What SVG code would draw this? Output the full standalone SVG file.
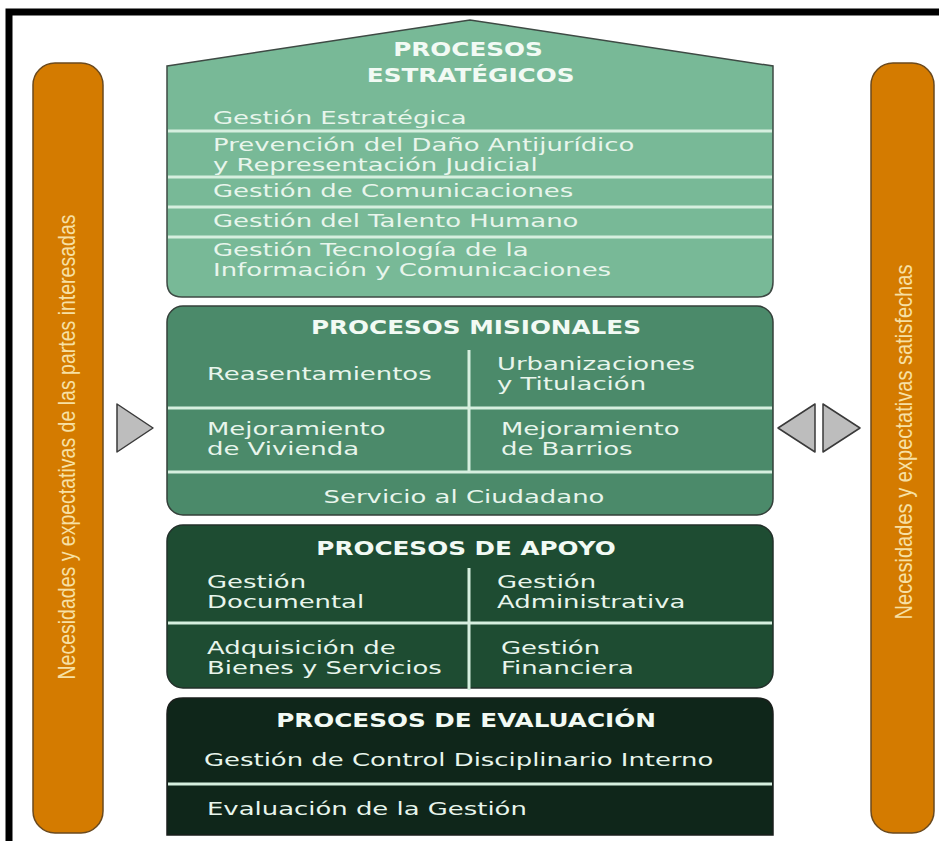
<svg xmlns="http://www.w3.org/2000/svg" width="939" height="841" viewBox="0 0 939 841">
<defs>
<style>
.bar{fill:#D47B00;stroke:#6B4A1E;stroke-width:1.5}
.bt{font-family:"Liberation Sans",Arial,sans-serif;font-size:24px;fill:#F7E0A4}
.arw{fill:#BDBDBD;stroke:#3A3A3A;stroke-width:1.5;stroke-linejoin:round}
.sep{stroke:#D6EFDF;stroke-width:3;fill:none}
.t{font-family:"DejaVu Sans",Verdana,sans-serif;font-size:17.5px;fill:#E8F5EC}
.h{font-family:"DejaVu Sans",Verdana,sans-serif;font-size:19px;font-weight:bold;fill:#F2FAF4;text-anchor:middle}
.c{text-anchor:middle}
</style>
</defs>
<rect x="0" y="0" width="939" height="841" fill="#FFFFFF"/>
<rect x="9" y="12" width="945" height="845" fill="none" stroke="#000" stroke-width="7"/>

<g id="left-bar">
<rect class="bar" x="33" y="63" width="70" height="770" rx="22"/>
<text class="bt" transform="translate(75,447) rotate(-90)" text-anchor="middle" textLength="465" lengthAdjust="spacingAndGlyphs">Necesidades y expectativas de las partes interesadas</text>
</g>
<g id="right-bar">
<rect class="bar" x="871" y="63" width="63" height="770" rx="22"/>
<text class="bt" transform="translate(912,442) rotate(-90)" text-anchor="middle" textLength="355" lengthAdjust="spacingAndGlyphs">Necesidades y expectativas satisfechas</text>
</g>

<g id="connectors">
<polygon class="arw" points="117,404 117,452 153,428"/>
<polygon class="arw" points="815,404 815,452 778,428"/>
<polygon class="arw" points="823,404 823,452 860,428"/>
</g>

<g id="estrategicos">
<path d="M167,66 L470,20 L773,66 L773,282 Q773,297 758,297 L182,297 Q167,297 167,282 Z" fill="#78B997" stroke="#3E4A44" stroke-width="1.5"/>
<text class="h" transform="translate(468,56) scale(1.3,1)"><tspan x="0" y="0">PROCESOS</tspan><tspan x="2" y="26">ESTRATÉGICOS</tspan></text>
<line class="sep" x1="168" y1="131" x2="772" y2="131"/>
<line class="sep" x1="168" y1="177" x2="772" y2="177"/>
<line class="sep" x1="168" y1="207" x2="772" y2="207"/>
<line class="sep" x1="168" y1="237" x2="772" y2="237"/>
<text class="t" transform="translate(213,124) scale(1.48,1)">Gestión Estratégica</text>
<text class="t" transform="translate(213,150.5) scale(1.48,1)"><tspan x="0" y="0">Prevención del Daño Antijurídico</tspan><tspan x="0" y="20.5">y Representación Judicial</tspan></text>
<text class="t" transform="translate(213,197) scale(1.48,1)">Gestión de Comunicaciones</text>
<text class="t" transform="translate(213,227) scale(1.48,1)">Gestión del Talento Humano</text>
<text class="t" transform="translate(213,256) scale(1.48,1)"><tspan x="0" y="0">Gestión Tecnología de la</tspan><tspan x="0" y="20.5">Información y Comunicaciones</tspan></text>
</g>

<g id="misionales">
<rect x="167" y="306" width="606" height="209" rx="16" fill="#4B8A6A" stroke="#34403A" stroke-width="1.5"/>
<text class="h" transform="translate(476,334) scale(1.3,1)">PROCESOS MISIONALES</text>
<line class="sep" x1="469" y1="350" x2="469" y2="472"/>
<line class="sep" x1="168" y1="408" x2="772" y2="408"/>
<line class="sep" x1="168" y1="472" x2="772" y2="472"/>
<text class="t" transform="translate(207,380) scale(1.48,1)">Reasentamientos</text>
<text class="t" transform="translate(497,369.5) scale(1.48,1)"><tspan x="0" y="0">Urbanizaciones</tspan><tspan x="0" y="20.5">y Titulación</tspan></text>
<text class="t" transform="translate(207,435) scale(1.48,1)"><tspan x="0" y="0">Mejoramiento</tspan><tspan x="0" y="20.5">de Vivienda</tspan></text>
<text class="t" transform="translate(501,435) scale(1.48,1)"><tspan x="0" y="0">Mejoramiento</tspan><tspan x="0" y="20.5">de Barrios</tspan></text>
<text class="t c" transform="translate(464,503) scale(1.48,1)">Servicio al Ciudadano</text>
</g>

<g id="apoyo">
<rect x="167" y="525" width="606" height="163" rx="16" fill="#1E4C32" stroke="#22302A" stroke-width="1.5"/>
<text class="h" transform="translate(466,555) scale(1.3,1)">PROCESOS DE APOYO</text>
<line class="sep" x1="469" y1="568" x2="469" y2="690"/>
<line class="sep" x1="168" y1="623" x2="772" y2="623"/>
<text class="t" transform="translate(207,588) scale(1.48,1)"><tspan x="0" y="0">Gestión</tspan><tspan x="0" y="20.5">Documental</tspan></text>
<text class="t" transform="translate(497,588) scale(1.48,1)"><tspan x="0" y="0">Gestión</tspan><tspan x="0" y="20.5">Administrativa</tspan></text>
<text class="t" transform="translate(207,654) scale(1.48,1)"><tspan x="0" y="0">Adquisición de</tspan><tspan x="0" y="20.5">Bienes y Servicios</tspan></text>
<text class="t" transform="translate(501,654) scale(1.48,1)"><tspan x="0" y="0">Gestión</tspan><tspan x="0" y="20.5">Financiera</tspan></text>
</g>

<g id="evaluacion">
<path d="M167,714 Q167,698 183,698 L757,698 Q773,698 773,714 L773,835 L167,835 Z" fill="#0F261A" stroke="#1A1F1C" stroke-width="1.5"/>
<text class="h" transform="translate(466,727) scale(1.3,1)">PROCESOS DE EVALUACIÓN</text>
<line class="sep" x1="168" y1="784" x2="772" y2="784"/>
<text class="t" transform="translate(204,766) scale(1.48,1)">Gestión de Control Disciplinario Interno</text>
<text class="t" transform="translate(207,815) scale(1.48,1)">Evaluación de la Gestión</text>
</g>
</svg>
